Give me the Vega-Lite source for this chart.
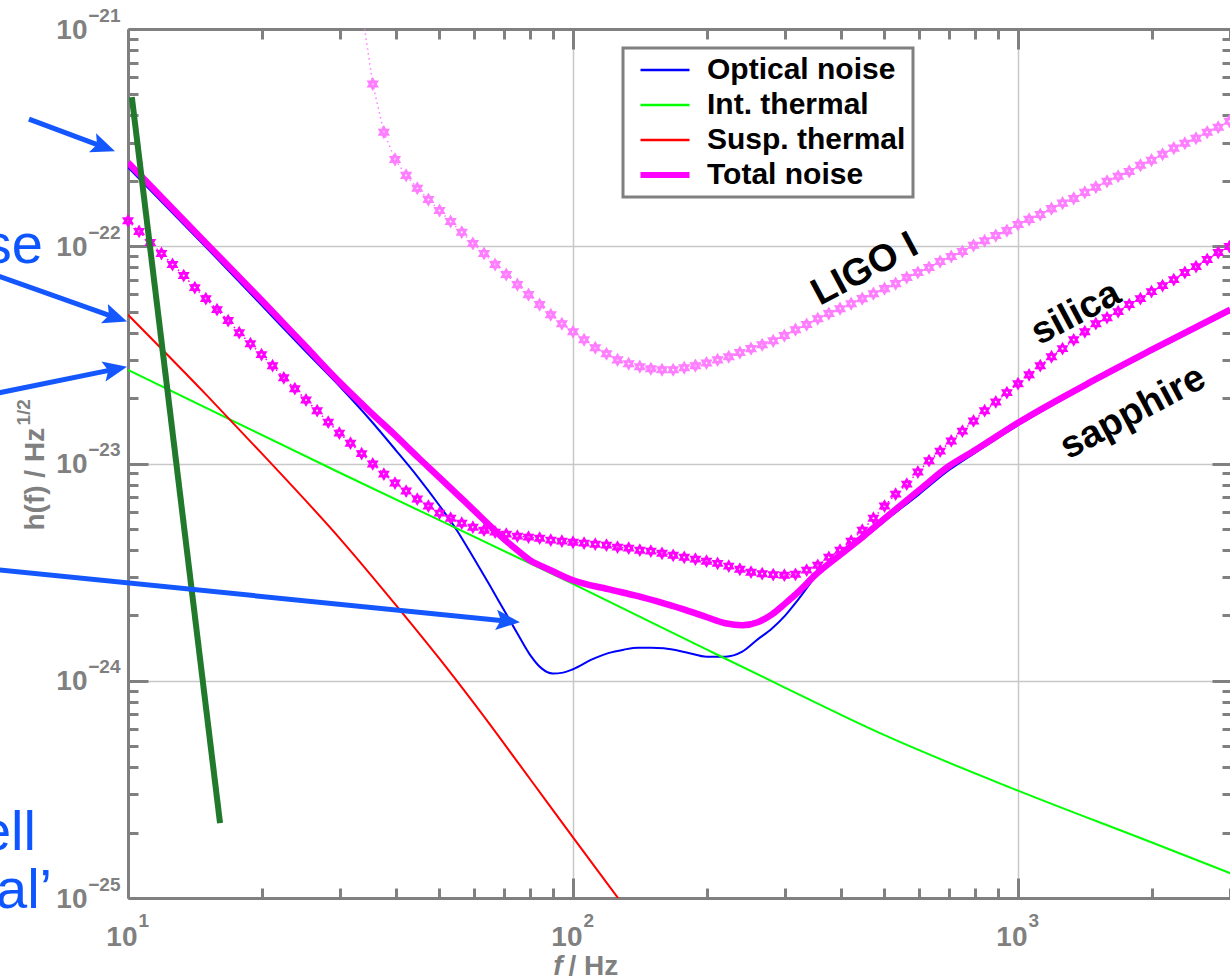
{
  "$schema": "https://vega.github.io/schema/vega-lite/v6.json",
  "width": 1104,
  "height": 869,
  "autosize": {"type": "none"},
  "padding": {"left": 128, "top": 29, "right": 0, "bottom": 82},
  "background": "white",
  "config": {"view": {"stroke": null}, "font": "Liberation Sans"},
  "resolve": {"axis": {"x": "independent", "y": "independent"}},
  "datasets": {
    "curves": [
      {"series": "Optical noise", "f": 10, "h": 2.31e-22},
      {"series": "Optical noise", "f": 15, "h": 9.87e-23},
      {"series": "Optical noise", "f": 20, "h": 5.33e-23},
      {"series": "Optical noise", "f": 25, "h": 3.30e-23},
      {"series": "Optical noise", "f": 30, "h": 2.25e-23},
      {"series": "Optical noise", "f": 35, "h": 1.59e-23},
      {"series": "Optical noise", "f": 40, "h": 1.15e-23},
      {"series": "Optical noise", "f": 45, "h": 8.57e-24},
      {"series": "Optical noise", "f": 50, "h": 6.44e-24},
      {"series": "Optical noise", "f": 55, "h": 4.88e-24},
      {"series": "Optical noise", "f": 60, "h": 3.63e-24},
      {"series": "Optical noise", "f": 65, "h": 2.75e-24},
      {"series": "Optical noise", "f": 70, "h": 2.11e-24},
      {"series": "Optical noise", "f": 75, "h": 1.65e-24},
      {"series": "Optical noise", "f": 80, "h": 1.32e-24},
      {"series": "Optical noise", "f": 85, "h": 1.14e-24},
      {"series": "Optical noise", "f": 90, "h": 1.08e-24},
      {"series": "Optical noise", "f": 95, "h": 1.09e-24},
      {"series": "Optical noise", "f": 100, "h": 1.13e-24},
      {"series": "Optical noise", "f": 110, "h": 1.25e-24},
      {"series": "Optical noise", "f": 120, "h": 1.34e-24},
      {"series": "Optical noise", "f": 130, "h": 1.39e-24},
      {"series": "Optical noise", "f": 140, "h": 1.42e-24},
      {"series": "Optical noise", "f": 150, "h": 1.42e-24},
      {"series": "Optical noise", "f": 160, "h": 1.41e-24},
      {"series": "Optical noise", "f": 180, "h": 1.35e-24},
      {"series": "Optical noise", "f": 200, "h": 1.29e-24},
      {"series": "Optical noise", "f": 220, "h": 1.29e-24},
      {"series": "Optical noise", "f": 240, "h": 1.36e-24},
      {"series": "Optical noise", "f": 260, "h": 1.55e-24},
      {"series": "Optical noise", "f": 280, "h": 1.74e-24},
      {"series": "Optical noise", "f": 300, "h": 2.00e-24},
      {"series": "Optical noise", "f": 320, "h": 2.35e-24},
      {"series": "Optical noise", "f": 350, "h": 2.99e-24},
      {"series": "Optical noise", "f": 400, "h": 3.76e-24},
      {"series": "Optical noise", "f": 450, "h": 4.53e-24},
      {"series": "Optical noise", "f": 500, "h": 5.40e-24},
      {"series": "Optical noise", "f": 600, "h": 7.23e-24},
      {"series": "Optical noise", "f": 700, "h": 9.33e-24},
      {"series": "Optical noise", "f": 800, "h": 1.12e-23},
      {"series": "Optical noise", "f": 1000, "h": 1.50e-23},
      {"series": "Optical noise", "f": 1500, "h": 2.40e-23},
      {"series": "Optical noise", "f": 2000, "h": 3.27e-23},
      {"series": "Optical noise", "f": 3000, "h": 5.00e-23},
      {"series": "Int. thermal", "f": 10, "h": 2.70e-23},
      {"series": "Int. thermal", "f": 30, "h": 9.04e-24},
      {"series": "Int. thermal", "f": 100, "h": 2.79e-24},
      {"series": "Int. thermal", "f": 200, "h": 1.39e-24},
      {"series": "Int. thermal", "f": 300, "h": 9.28e-25},
      {"series": "Int. thermal", "f": 500, "h": 5.63e-25},
      {"series": "Int. thermal", "f": 1000, "h": 3.12e-25},
      {"series": "Int. thermal", "f": 2000, "h": 1.80e-25},
      {"series": "Int. thermal", "f": 3000, "h": 1.30e-25},
      {"series": "Susp. thermal", "f": 10, "h": 4.84e-23},
      {"series": "Susp. thermal", "f": 15, "h": 2.07e-23},
      {"series": "Susp. thermal", "f": 20, "h": 1.11e-23},
      {"series": "Susp. thermal", "f": 30, "h": 4.49e-24},
      {"series": "Susp. thermal", "f": 40, "h": 2.23e-24},
      {"series": "Susp. thermal", "f": 50, "h": 1.27e-24},
      {"series": "Susp. thermal", "f": 60, "h": 7.84e-25},
      {"series": "Susp. thermal", "f": 80, "h": 3.54e-25},
      {"series": "Susp. thermal", "f": 100, "h": 1.90e-25},
      {"series": "Susp. thermal", "f": 120, "h": 1.15e-25},
      {"series": "Susp. thermal", "f": 130, "h": 9.22e-26},
      {"series": "Total noise", "f": 10, "h": 2.43e-22},
      {"series": "Total noise", "f": 15, "h": 1.03e-22},
      {"series": "Total noise", "f": 20, "h": 5.62e-23},
      {"series": "Total noise", "f": 25, "h": 3.48e-23},
      {"series": "Total noise", "f": 30, "h": 2.35e-23},
      {"series": "Total noise", "f": 35, "h": 1.73e-23},
      {"series": "Total noise", "f": 40, "h": 1.34e-23},
      {"series": "Total noise", "f": 45, "h": 1.06e-23},
      {"series": "Total noise", "f": 50, "h": 8.66e-24},
      {"series": "Total noise", "f": 55, "h": 7.19e-24},
      {"series": "Total noise", "f": 60, "h": 6.07e-24},
      {"series": "Total noise", "f": 65, "h": 5.18e-24},
      {"series": "Total noise", "f": 70, "h": 4.49e-24},
      {"series": "Total noise", "f": 75, "h": 3.99e-24},
      {"series": "Total noise", "f": 80, "h": 3.59e-24},
      {"series": "Total noise", "f": 85, "h": 3.37e-24},
      {"series": "Total noise", "f": 90, "h": 3.19e-24},
      {"series": "Total noise", "f": 95, "h": 3.03e-24},
      {"series": "Total noise", "f": 100, "h": 2.90e-24},
      {"series": "Total noise", "f": 120, "h": 2.64e-24},
      {"series": "Total noise", "f": 140, "h": 2.45e-24},
      {"series": "Total noise", "f": 160, "h": 2.27e-24},
      {"series": "Total noise", "f": 180, "h": 2.11e-24},
      {"series": "Total noise", "f": 200, "h": 1.96e-24},
      {"series": "Total noise", "f": 220, "h": 1.84e-24},
      {"series": "Total noise", "f": 240, "h": 1.80e-24},
      {"series": "Total noise", "f": 260, "h": 1.86e-24},
      {"series": "Total noise", "f": 280, "h": 2.02e-24},
      {"series": "Total noise", "f": 300, "h": 2.27e-24},
      {"series": "Total noise", "f": 320, "h": 2.55e-24},
      {"series": "Total noise", "f": 350, "h": 3.06e-24},
      {"series": "Total noise", "f": 400, "h": 3.82e-24},
      {"series": "Total noise", "f": 450, "h": 4.63e-24},
      {"series": "Total noise", "f": 500, "h": 5.55e-24},
      {"series": "Total noise", "f": 600, "h": 7.55e-24},
      {"series": "Total noise", "f": 700, "h": 9.74e-24},
      {"series": "Total noise", "f": 800, "h": 1.15e-23},
      {"series": "Total noise", "f": 1000, "h": 1.54e-23},
      {"series": "Total noise", "f": 1500, "h": 2.45e-23},
      {"series": "Total noise", "f": 2000, "h": 3.34e-23},
      {"series": "Total noise", "f": 3000, "h": 5.11e-23}
    ],
    "silica": [
      {"f": 10, "h": 1.31e-22}, {"f": 10.59, "h": 1.17e-22}, {"f": 11.22, "h": 1.04e-22}, {"f": 11.89, "h": 9.26e-23},
      {"f": 12.59, "h": 8.24e-23}, {"f": 13.34, "h": 7.33e-23}, {"f": 14.13, "h": 6.45e-23}, {"f": 14.96, "h": 5.74e-23},
      {"f": 15.85, "h": 5.11e-23}, {"f": 16.79, "h": 4.55e-23}, {"f": 17.78, "h": 4.00e-23}, {"f": 18.84, "h": 3.56e-23},
      {"f": 19.95, "h": 3.17e-23}, {"f": 21.13, "h": 2.82e-23}, {"f": 22.39, "h": 2.48e-23}, {"f": 23.71, "h": 2.21e-23},
      {"f": 25.12, "h": 1.96e-23}, {"f": 26.61, "h": 1.75e-23}, {"f": 28.18, "h": 1.55e-23}, {"f": 29.85, "h": 1.38e-23},
      {"f": 31.62, "h": 1.24e-23}, {"f": 33.5, "h": 1.11e-23}, {"f": 35.48, "h": 9.95e-24}, {"f": 37.58, "h": 8.94e-24},
      {"f": 39.81, "h": 8.13e-24}, {"f": 42.17, "h": 7.47e-24}, {"f": 44.67, "h": 6.86e-24}, {"f": 47.32, "h": 6.37e-24},
      {"f": 50.12, "h": 5.91e-24}, {"f": 53.09, "h": 5.60e-24}, {"f": 56.23, "h": 5.31e-24}, {"f": 59.57, "h": 5.09e-24},
      {"f": 63.1, "h": 4.93e-24}, {"f": 66.83, "h": 4.83e-24}, {"f": 70.79, "h": 4.73e-24}, {"f": 74.99, "h": 4.63e-24},
      {"f": 79.43, "h": 4.58e-24}, {"f": 84.14, "h": 4.53e-24}, {"f": 89.13, "h": 4.44e-24}, {"f": 94.41, "h": 4.39e-24},
      {"f": 100, "h": 4.34e-24}, {"f": 105.9, "h": 4.30e-24}, {"f": 112.2, "h": 4.25e-24}, {"f": 118.9, "h": 4.21e-24},
      {"f": 125.9, "h": 4.12e-24}, {"f": 133.4, "h": 4.08e-24}, {"f": 141.3, "h": 3.99e-24}, {"f": 149.6, "h": 3.95e-24},
      {"f": 158.5, "h": 3.86e-24}, {"f": 167.9, "h": 3.78e-24}, {"f": 177.8, "h": 3.70e-24}, {"f": 188.4, "h": 3.63e-24},
      {"f": 199.5, "h": 3.55e-24}, {"f": 211.3, "h": 3.47e-24}, {"f": 223.9, "h": 3.37e-24}, {"f": 237.1, "h": 3.26e-24},
      {"f": 251.2, "h": 3.16e-24}, {"f": 266.1, "h": 3.11e-24}, {"f": 281.8, "h": 3.08e-24}, {"f": 298.5, "h": 3.06e-24},
      {"f": 316.2, "h": 3.09e-24}, {"f": 335, "h": 3.23e-24}, {"f": 354.8, "h": 3.40e-24}, {"f": 375.8, "h": 3.70e-24},
      {"f": 398.1, "h": 3.99e-24}, {"f": 421.7, "h": 4.39e-24}, {"f": 446.7, "h": 4.93e-24}, {"f": 473.2, "h": 5.60e-24},
      {"f": 501.2, "h": 6.37e-24}, {"f": 530.9, "h": 7.23e-24}, {"f": 562.3, "h": 8.04e-24}, {"f": 595.7, "h": 9.14e-24},
      {"f": 631, "h": 1.03e-23}, {"f": 668.3, "h": 1.14e-23}, {"f": 707.9, "h": 1.27e-23}, {"f": 749.9, "h": 1.41e-23},
      {"f": 794.3, "h": 1.57e-23}, {"f": 841.4, "h": 1.75e-23}, {"f": 891.3, "h": 1.92e-23}, {"f": 944.1, "h": 2.12e-23},
      {"f": 1000, "h": 2.33e-23}, {"f": 1059, "h": 2.56e-23}, {"f": 1122, "h": 2.82e-23}, {"f": 1189, "h": 3.10e-23},
      {"f": 1259, "h": 3.38e-23}, {"f": 1334, "h": 3.71e-23}, {"f": 1413, "h": 4.04e-23}, {"f": 1496, "h": 4.40e-23},
      {"f": 1585, "h": 4.69e-23}, {"f": 1679, "h": 5.00e-23}, {"f": 1778, "h": 5.39e-23}, {"f": 1884, "h": 5.74e-23},
      {"f": 1995, "h": 6.18e-23}, {"f": 2113, "h": 6.59e-23}, {"f": 2239, "h": 7.02e-23}, {"f": 2371, "h": 7.57e-23},
      {"f": 2512, "h": 8.06e-23}, {"f": 2661, "h": 8.69e-23}, {"f": 2818, "h": 9.36e-23}, {"f": 2985, "h": 9.97e-23}
    ],
    "ligo": [
      {"f": 33.5, "h": 1.24e-21}, {"f": 35.48, "h": 5.58e-22}, {"f": 37.58, "h": 3.35e-22}, {"f": 39.81, "h": 2.51e-22},
      {"f": 42.17, "h": 2.12e-22}, {"f": 44.67, "h": 1.85e-22}, {"f": 47.32, "h": 1.64e-22}, {"f": 50.12, "h": 1.46e-22},
      {"f": 53.09, "h": 1.30e-22}, {"f": 56.23, "h": 1.16e-22}, {"f": 59.57, "h": 1.03e-22}, {"f": 63.1, "h": 9.26e-23},
      {"f": 66.83, "h": 8.24e-23}, {"f": 70.79, "h": 7.41e-23}, {"f": 74.99, "h": 6.66e-23}, {"f": 79.43, "h": 5.99e-23},
      {"f": 84.14, "h": 5.39e-23}, {"f": 89.13, "h": 4.84e-23}, {"f": 94.41, "h": 4.40e-23}, {"f": 100, "h": 4.04e-23},
      {"f": 105.9, "h": 3.71e-23}, {"f": 112.2, "h": 3.41e-23}, {"f": 118.9, "h": 3.20e-23}, {"f": 125.9, "h": 3.00e-23},
      {"f": 133.4, "h": 2.88e-23}, {"f": 141.3, "h": 2.79e-23}, {"f": 149.6, "h": 2.73e-23}, {"f": 158.5, "h": 2.70e-23},
      {"f": 167.9, "h": 2.70e-23}, {"f": 177.8, "h": 2.76e-23}, {"f": 188.4, "h": 2.82e-23}, {"f": 199.5, "h": 2.90e-23},
      {"f": 211.3, "h": 3.00e-23}, {"f": 223.9, "h": 3.10e-23}, {"f": 237.1, "h": 3.24e-23}, {"f": 251.2, "h": 3.38e-23},
      {"f": 266.1, "h": 3.52e-23}, {"f": 281.8, "h": 3.67e-23}, {"f": 298.5, "h": 3.88e-23}, {"f": 316.2, "h": 4.13e-23},
      {"f": 335, "h": 4.36e-23}, {"f": 354.8, "h": 4.64e-23}, {"f": 375.8, "h": 4.90e-23}, {"f": 398.1, "h": 5.16e-23},
      {"f": 421.7, "h": 5.44e-23}, {"f": 446.7, "h": 5.74e-23}, {"f": 473.2, "h": 6.05e-23}, {"f": 501.2, "h": 6.38e-23},
      {"f": 530.9, "h": 6.73e-23}, {"f": 562.3, "h": 7.18e-23}, {"f": 595.7, "h": 7.57e-23}, {"f": 631, "h": 7.98e-23},
      {"f": 668.3, "h": 8.50e-23}, {"f": 707.9, "h": 8.97e-23}, {"f": 749.9, "h": 9.46e-23}, {"f": 794.3, "h": 1.01e-22},
      {"f": 841.4, "h": 1.06e-22}, {"f": 891.3, "h": 1.12e-22}, {"f": 944.1, "h": 1.18e-22}, {"f": 1000, "h": 1.26e-22},
      {"f": 1059, "h": 1.33e-22}, {"f": 1122, "h": 1.40e-22}, {"f": 1189, "h": 1.49e-22}, {"f": 1259, "h": 1.58e-22},
      {"f": 1334, "h": 1.66e-22}, {"f": 1413, "h": 1.77e-22}, {"f": 1496, "h": 1.87e-22}, {"f": 1585, "h": 1.99e-22},
      {"f": 1679, "h": 2.10e-22}, {"f": 1778, "h": 2.21e-22}, {"f": 1884, "h": 2.36e-22}, {"f": 1995, "h": 2.49e-22},
      {"f": 2113, "h": 2.65e-22}, {"f": 2239, "h": 2.83e-22}, {"f": 2371, "h": 2.98e-22}, {"f": 2512, "h": 3.14e-22},
      {"f": 2661, "h": 3.35e-22}, {"f": 2818, "h": 3.53e-22}, {"f": 2985, "h": 3.76e-22}
    ],
    "seismic": [
      {"f": 10.2, "h": 4.86e-22},
      {"f": 16.1, "h": 2.21e-25}
    ],
    "shafts": [
      {"f1": 5.99, "h1": 3.85e-22, "f2": 8.83, "h2": 2.86e-22},
      {"f1": 4.65, "h1": 7.81e-23, "f2": 9.38, "h2": 4.69e-23},
      {"f1": 4.65, "h1": 2.03e-23, "f2": 9.36, "h2": 2.72e-23},
      {"f1": 4.65, "h1": 3.30e-24, "f2": 71.5, "h2": 1.88e-24}
    ],
    "curvelabels": [
      {"label": "LIGO I", "f": 453, "h": 7.81e-23},
      {"label": "silica", "f": 1350, "h": 4.90e-23},
      {"label": "sapphire", "f": 1813, "h": 1.71e-23}
    ],
    "sidetext": [
      {"label": "se", "f": 6.44, "h": 8.41e-23},
      {"label": "ell", "f": 6.21, "h": 1.67e-25},
      {"label": "al’", "f": 6.75, "h": 8.99e-26}
    ]
  },
  "layer": [
    {
      "data": {"name": "curves"},
      "mark": {"type": "line", "clip": true, "interpolate": "monotone"},
      "encoding": {
        "x": {
          "field": "f", "type": "quantitative",
          "scale": {"type": "log", "domain": [10, 3026], "nice": false},
          "axis": {
            "orient": "bottom",
            "values": [10, 20, 30, 40, 50, 60, 70, 80, 90, 100, 200, 300, 400, 500, 600, 700, 800, 900, 1000, 2000, 3000],
            "domainColor": "#808080", "domainWidth": 3,
            "tickColor": "#808080", "tickWidth": 3,
            "tickSize": {"condition": {"test": "datum.value === 10 || datum.value === 100 || datum.value === 1000", "value": -20}, "value": -10},
            "grid": true, "gridColor": "#c8c8c8", "gridWidth": 1.5,
            "gridOpacity": {"condition": {"test": "datum.value === 100 || datum.value === 1000", "value": 1}, "value": 0},
            "labelExpr": "datum.value === 10 || datum.value === 100 || datum.value === 1000 ? '10' : ''",
            "labelFont": "Liberation Sans", "labelFontWeight": "bold", "labelFontSize": 28, "labelColor": "#808080",
            "labelAlign": "right", "labelOffset": 9, "labelBaseline": "top",
            "labelPadding": 45, "labelFlush": false, "labelOverlap": false, "labelBound": false,
            "title": "/ Hz", "titleFont": "Liberation Sans", "titleFontWeight": "bold", "titleFontSize": 28, "titleColor": "#808080",
            "titleX": 440, "titleY": 76, "titleAlign": "left", "titleBaseline": "alphabetic"
          }
        },
        "y": {
          "field": "h", "type": "quantitative",
          "scale": {"type": "log", "domain": [1e-25, 1e-21], "nice": false},
          "axis": {
            "orient": "left",
            "values": [1e-25, 2e-25, 3e-25, 4e-25, 5e-25, 6e-25, 7e-25, 8e-25, 9e-25, 1e-24, 2e-24, 3e-24, 4e-24, 5e-24, 6e-24, 7e-24, 8e-24, 9e-24, 1e-23, 2e-23, 3e-23, 4e-23, 5e-23, 6e-23, 7e-23, 8e-23, 9e-23, 1e-22, 2e-22, 3e-22, 4e-22, 5e-22, 6e-22, 7e-22, 8e-22, 9e-22, 1e-21],
            "domainColor": "#808080", "domainWidth": 3,
            "tickColor": "#808080", "tickWidth": 3,
            "tickSize": {"condition": {"test": "datum.value === 1e-25 || datum.value === 1e-24 || datum.value === 1e-23 || datum.value === 1e-22 || datum.value === 1e-21", "value": -20}, "value": -10},
            "grid": true, "gridColor": "#c8c8c8", "gridWidth": 1.5,
            "gridOpacity": {"condition": {"test": "datum.value === 1e-24 || datum.value === 1e-23 || datum.value === 1e-22", "value": 1}, "value": 0},
            "labelExpr": "datum.value === 1e-21 || datum.value === 1e-22 || datum.value === 1e-23 || datum.value === 1e-24 || datum.value === 1e-25 ? '10' : ''",
            "labelFont": "Liberation Sans", "labelFontWeight": "bold", "labelFontSize": 28, "labelColor": "#808080",
            "labelAlign": "right", "labelBaseline": "middle", "labelOffset": 1,
            "labelPadding": 61, "labelFlush": false, "labelOverlap": false, "labelBound": false,
            "title": "h(f) / Hz", "titleFont": "Liberation Sans", "titleFontWeight": "bold", "titleFontSize": 28, "titleColor": "#808080",
            "titleX": -85, "titleY": 501, "titleAngle": -90, "titleAlign": "left", "titleBaseline": "alphabetic"
          }
        },
        "color": {
          "field": "series", "type": "nominal",
          "scale": {"domain": ["Optical noise", "Int. thermal", "Susp. thermal", "Total noise"], "range": ["#0000ff", "#00ff00", "#ff0000", "#ff00ff"]},
          "legend": {
            "title": null, "orient": "none", "legendX": 495, "legendY": 19,
            "symbolType": "stroke", "symbolSize": 2400, "symbolStrokeWidth": 2.5,
            "labelFont": "Liberation Sans", "labelFontWeight": "bold", "labelFontSize": 30, "labelColor": "black",
            "labelOffset": 27, "labelLimit": 400, "rowPadding": 5, "padding": 7, "symbolOffset": 20,
            "strokeColor": "#808080", "fillColor": "white",
            "encode": {
              "legend": {"update": {"strokeWidth": {"value": 3}}},
              "symbols": {"update": {"strokeWidth": {"signal": "datum.value === 'Total noise' ? 6 : 2.5"}}}
            }
          }
        },
        "strokeWidth": {"condition": {"test": "datum.series === 'Total noise'", "value": 6.5}, "value": 2}
      }
    },
    {
      "data": {"name": "silica"},
      "mark": {"type": "line", "color": "#ff00ff", "strokeWidth": 1.5, "strokeDash": [1.5, 3.5]},
      "encoding": {
        "x": {
          "field": "f", "type": "quantitative",
          "axis": {
            "orient": "top", "labels": false, "title": null, "grid": false,
            "values": [10, 20, 30, 40, 50, 60, 70, 80, 90, 100, 200, 300, 400, 500, 600, 700, 800, 900, 1000, 2000, 3000],
            "domainColor": "#808080", "domainWidth": 3,
            "tickColor": "#808080", "tickWidth": 3,
            "tickSize": {"condition": {"test": "datum.value === 10 || datum.value === 100 || datum.value === 1000", "value": -20}, "value": -10}
          }
        },
        "y": {
          "field": "h", "type": "quantitative",
          "axis": {
            "orient": "right", "labels": false, "title": null, "grid": false,
            "values": [1e-25, 2e-25, 3e-25, 4e-25, 5e-25, 6e-25, 7e-25, 8e-25, 9e-25, 1e-24, 2e-24, 3e-24, 4e-24, 5e-24, 6e-24, 7e-24, 8e-24, 9e-24, 1e-23, 2e-23, 3e-23, 4e-23, 5e-23, 6e-23, 7e-23, 8e-23, 9e-23, 1e-22, 2e-22, 3e-22, 4e-22, 5e-22, 6e-22, 7e-22, 8e-22, 9e-22, 1e-21],
            "domainColor": "#808080", "domainWidth": 3,
            "tickColor": "#808080", "tickWidth": 3,
            "tickSize": {"condition": {"test": "datum.value === 1e-25 || datum.value === 1e-24 || datum.value === 1e-23 || datum.value === 1e-22 || datum.value === 1e-21", "value": -20}, "value": -10}
          }
        }
      }
    },
    {
      "data": {"name": "silica"},
      "mark": {"type": "point", "shape": "M0,-1L0.866,0.5L-0.866,0.5Z M0,1L-0.866,-0.5L0.866,-0.5Z M0,-0.16L-0.14,-0.08L-0.14,0.08L0,0.16L0.14,0.08L0.14,-0.08Z M0,-0.16L-0.14,-0.08L-0.14,0.08L0,0.16L0.14,0.08L0.14,-0.08Z", "filled": true, "color": "#ff00ff", "opacity": 1, "size": 190},
      "encoding": {
        "x": {
          "field": "f", "type": "quantitative",
          "axis": {
            "orient": "bottom", "domain": false, "ticks": false, "grid": false,
            "values": [10, 100, 1000],
            "labelExpr": "datum.value === 10 ? '1' : datum.value === 100 ? '2' : '3'",
            "labelFont": "Liberation Sans", "labelFontWeight": "bold", "labelFontSize": 19, "labelColor": "#808080",
            "labelAlign": "left", "labelOffset": 10, "labelBaseline": "top",
            "labelPadding": 13, "labelFlush": false, "labelOverlap": false, "labelBound": false,
            "title": "f", "titleFont": "Liberation Sans", "titleFontWeight": "bold", "titleFontStyle": "italic", "titleFontSize": 28, "titleColor": "#808080",
            "titleX": 434, "titleY": 76, "titleAlign": "right", "titleBaseline": "alphabetic"
          }
        },
        "y": {
          "field": "h", "type": "quantitative",
          "axis": {
            "orient": "left", "domain": false, "ticks": false, "grid": false,
            "values": [1e-25, 1e-24, 1e-23, 1e-22, 1e-21],
            "labelExpr": "datum.value === 1e-21 ? '−21' : datum.value === 1e-22 ? '−22' : datum.value === 1e-23 ? '−23' : datum.value === 1e-24 ? '−24' : '−25'",
            "labelFont": "Liberation Sans", "labelFontWeight": "bold", "labelFontSize": 19, "labelColor": "#808080",
            "labelAlign": "right", "labelBaseline": "middle", "labelOffset": -14,
            "labelPadding": 8, "labelFlush": false, "labelOverlap": false, "labelBound": false,
            "title": "1/2", "titleFont": "Liberation Sans", "titleFontWeight": "bold", "titleFontSize": 19, "titleColor": "#808080",
            "titleX": -99, "titleY": 396, "titleAngle": -90, "titleAlign": "left", "titleBaseline": "alphabetic"
          }
        }
      }
    },
    {
      "data": {"name": "ligo"},
      "mark": {"type": "line", "color": "#ff80ff", "strokeWidth": 1.5, "strokeDash": [1.5, 3.5], "clip": true},
      "encoding": {
        "x": {"field": "f", "type": "quantitative", "axis": null},
        "y": {"field": "h", "type": "quantitative", "axis": null}
      }
    },
    {
      "data": {"name": "ligo"},
      "transform": [{"filter": "datum.h < 1e-21"}],
      "mark": {"type": "point", "shape": "M0,-1L0.866,0.5L-0.866,0.5Z M0,1L-0.866,-0.5L0.866,-0.5Z M0,-0.16L-0.14,-0.08L-0.14,0.08L0,0.16L0.14,0.08L0.14,-0.08Z M0,-0.16L-0.14,-0.08L-0.14,0.08L0,0.16L0.14,0.08L0.14,-0.08Z", "filled": true, "color": "#ff7dff", "opacity": 1, "size": 200},
      "encoding": {
        "x": {"field": "f", "type": "quantitative", "axis": null},
        "y": {"field": "h", "type": "quantitative", "axis": null}
      }
    },
    {
      "data": {"name": "seismic"},
      "mark": {"type": "line", "color": "#217a2b", "strokeWidth": 6},
      "encoding": {
        "x": {"field": "f", "type": "quantitative", "axis": null},
        "y": {"field": "h", "type": "quantitative", "axis": null}
      }
    },
    {
      "data": {"name": "shafts"},
      "mark": {"type": "rule", "color": "#1557ff", "strokeWidth": 5, "clip": false},
      "encoding": {
        "x": {"field": "f1", "type": "quantitative", "axis": null},
        "y": {"field": "h1", "type": "quantitative", "axis": null},
        "x2": {"field": "f2"},
        "y2": {"field": "h2"}
      }
    },
    {
      "data": {"values": [{"f": 9.35, "h": 2.74e-22}]},
      "mark": {"type": "point", "shape": "M0,0L-2,-0.85L-1.6,0L-2,0.85Z", "filled": true, "color": "#1557ff", "opacity": 1, "size": 576, "angle": 20.4},
      "encoding": {
        "x": {"field": "f", "type": "quantitative", "axis": null},
        "y": {"field": "h", "type": "quantitative", "axis": null}
      }
    },
    {
      "data": {"values": [{"f": 9.95, "h": 4.50e-23}]},
      "mark": {"type": "point", "shape": "M0,0L-2,-0.85L-1.6,0L-2,0.85Z", "filled": true, "color": "#1557ff", "opacity": 1, "size": 576, "angle": 19.5},
      "encoding": {
        "x": {"field": "f", "type": "quantitative", "axis": null},
        "y": {"field": "h", "type": "quantitative", "axis": null}
      }
    },
    {
      "data": {"values": [{"f": 9.95, "h": 2.79e-23}]},
      "mark": {"type": "point", "shape": "M0,0L-2,-0.85L-1.6,0L-2,0.85Z", "filled": true, "color": "#1557ff", "opacity": 1, "size": 576, "angle": -11.6},
      "encoding": {
        "x": {"field": "f", "type": "quantitative", "axis": null},
        "y": {"field": "h", "type": "quantitative", "axis": null}
      }
    },
    {
      "data": {"values": [{"f": 76.0, "h": 1.86e-24}]},
      "mark": {"type": "point", "shape": "M0,0L-2,-0.85L-1.6,0L-2,0.85Z", "filled": true, "color": "#1557ff", "opacity": 1, "size": 576, "angle": 5.7},
      "encoding": {
        "x": {"field": "f", "type": "quantitative", "axis": null},
        "y": {"field": "h", "type": "quantitative", "axis": null}
      }
    },
    {
      "data": {"name": "curvelabels"},
      "mark": {"type": "text", "font": "Liberation Sans", "fontWeight": "bold", "fontSize": 38, "color": "black", "angle": -28, "align": "center", "baseline": "middle"},
      "encoding": {
        "x": {"field": "f", "type": "quantitative", "axis": null},
        "y": {"field": "h", "type": "quantitative", "axis": null},
        "text": {"field": "label"}
      }
    },
    {
      "data": {"name": "sidetext"},
      "mark": {"type": "text", "font": "Liberation Sans", "fontSize": 56, "color": "#0d55ff", "align": "right", "baseline": "alphabetic", "clip": false},
      "encoding": {
        "x": {"field": "f", "type": "quantitative", "axis": null},
        "y": {"field": "h", "type": "quantitative", "axis": null},
        "text": {"field": "label"}
      }
    }
  ]
}
